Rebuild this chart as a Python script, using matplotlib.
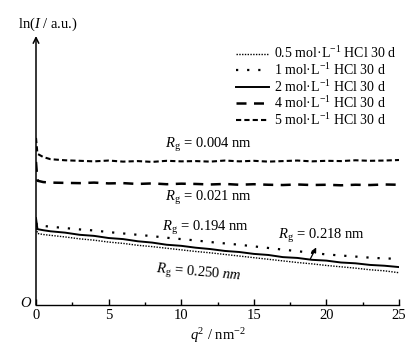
import matplotlib
matplotlib.use("Agg")
import matplotlib.pyplot as plt
from matplotlib.ticker import MultipleLocator

plt.rcParams['font.family'] = ['Liberation Serif', 'DejaVu Serif']
plt.rcParams['mathtext.fontset'] = 'custom'
plt.rcParams['mathtext.rm'] = 'Liberation Serif'
plt.rcParams['mathtext.it'] = 'Liberation Serif:italic'

# ---- data ----
q2 = [0, 0.1, 0.5] + list(range(1, 26))

lnI_05 = [2.95, 2.66, 2.62, 2.59, 2.53, 2.46, 2.41, 2.34, 2.29, 2.22, 2.17, 2.11, 2.05, 1.99,
          1.94, 1.88, 1.82, 1.76, 1.70, 1.64, 1.58, 1.53, 1.47, 1.42, 1.37, 1.31, 1.27, 1.20]
lnI_1 = [3.05, 2.96, 2.94, 2.91, 2.86, 2.81, 2.77, 2.71, 2.66, 2.61, 2.56, 2.50, 2.45, 2.40,
         2.34, 2.29, 2.24, 2.18, 2.12, 2.06, 2.00, 1.94, 1.88, 1.84, 1.80, 1.76, 1.73, 1.72]
lnI_2 = [3.23, 2.82, 2.78, 2.74, 2.69, 2.61, 2.57, 2.49, 2.45, 2.37, 2.32, 2.24, 2.20, 2.13,
         2.08, 2.01, 1.97, 1.90, 1.86, 1.78, 1.75, 1.68, 1.65, 1.58, 1.55, 1.49, 1.46, 1.41]
lnI_4 = [5.32, 4.62, 4.57, 4.55, 4.54, 4.53, 4.55, 4.52, 4.53, 4.50, 4.52, 4.49, 4.51, 4.50,
         4.48, 4.50, 4.47, 4.49, 4.47, 4.46, 4.48, 4.46, 4.47, 4.45, 4.47, 4.46, 4.48, 4.47]
lnI_5 = [6.21, 5.62, 5.50, 5.42, 5.38, 5.36, 5.34, 5.37, 5.33, 5.35, 5.32, 5.36, 5.34, 5.35,
         5.33, 5.37, 5.34, 5.36, 5.33, 5.35, 5.37, 5.34, 5.36, 5.35, 5.38, 5.36, 5.37, 5.39]

labels = [r"0.5 mol·L$^{-1}$ HCl 30 d", r"1 mol·L$^{-1}$ HCl 30 d",
          r"2 mol·L$^{-1}$ HCl 30 d", r"4 mol·L$^{-1}$ HCl 30 d",
          r"5 mol·L$^{-1}$ HCl 30 d"]
xticks = [0, 5, 10, 15, 20, 25]

fig = plt.figure(figsize=(4.19, 3.59), dpi=100)
ax = fig.add_axes([36/419, 1-305/359, 363/419, 269/359])

ax.plot(q2, lnI_05, color='black', lw=1.0, ls=(0, (1, 1)), label=labels[0])
ax.plot(q2, lnI_1, color='black', lw=1.6, ls=(0, (1, 4)), label=labels[1])
ax.plot(q2, lnI_2, color='black', lw=1.4, ls='-', label=labels[2])
ax.plot(q2, lnI_4, color='black', lw=1.8, ls=(0, (4, 3)), label=labels[3])
ax.plot(q2, lnI_5, color='black', lw=1.5, ls=(0, (2.5, 1.5)), label=labels[4])

ax.set_xlim(0, 25)
ax.set_ylim(0, 10)
ax.set_xticks(xticks)
ax.xaxis.set_minor_locator(MultipleLocator(2.5))
ax.tick_params(axis='x', which='major', direction='in', length=4, width=1, labelsize=10.5, pad=3)
ax.tick_params(axis='x', which='minor', direction='in', length=2.5, width=1)
ax.set_yticks([])
for s in ['top', 'right', 'left']:
    ax.spines[s].set_visible(False)
ax.spines['bottom'].set_linewidth(1.0)

ax.annotate('', xy=(0, 1.0), xycoords='axes fraction', xytext=(0, 0),
            arrowprops=dict(arrowstyle='->', lw=1.1, color='black', shrinkA=0, shrinkB=0,
                            mutation_scale=10))

fig.text(48/419, 1-24/359, r"ln($I$ / a.u.)", ha='center', va='center', fontsize=10.5)
fig.text(26/419, 1-303/359, r"$O$", ha='center', va='center', fontsize=10.5)
ax.set_xlabel(r"$q^2$ / nm$^{-2}$", fontsize=10.5, labelpad=3)

fs = 10.5
ax.text(8.9, 5.95, r"$R_\mathrm{g}$ = 0.004 nm", fontsize=fs, va='center')
ax.text(8.9, 3.98, r"$R_\mathrm{g}$ = 0.021 nm", fontsize=fs, va='center')
ax.text(8.7, 2.88, r"$R_\mathrm{g}$ = 0.194 nm", fontsize=fs, va='center')
ax.text(8.2, 1.15, r"$R_\mathrm{g}$ = $\mathit{0.250\ nm}$", fontsize=fs, va='center', rotation=-5)
ax.annotate('', xy=(19.3, 2.14), xytext=(18.9, 1.72),
            arrowprops=dict(arrowstyle='-|>', lw=0.9, color='black', mutation_scale=7,
                            shrinkA=0, shrinkB=0))
ax.text(16.7, 2.55, r"$R_\mathrm{g}$ = 0.218 nm", fontsize=fs, va='center')

leg = ax.legend(loc='upper left', bbox_to_anchor=(230/419, 1-40/359),
                bbox_transform=fig.transFigure, frameon=False, fontsize=10,
                handlelength=2.4, handletextpad=0.35, labelspacing=0.05, borderaxespad=0)

fig.savefig('out.png', dpi=100)
